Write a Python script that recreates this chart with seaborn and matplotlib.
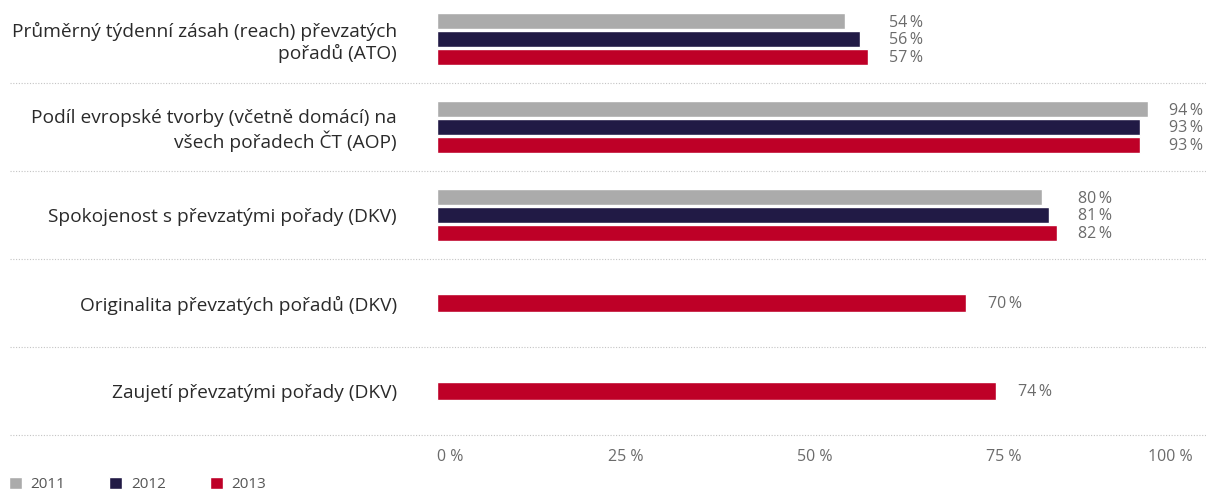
import pandas as pd
import matplotlib.pyplot as plt
import seaborn as sns

# Data
categories = [
    'Průměrný týdenní zásah (reach) převzatých\npořadů (ATO)',
    'Podíl evropské tvorby (včetně domácí) na\nvšech pořadech ČT (AOP)',
    'Spokojenost s převzatými pořady (DKV)',
    'Originalita převzatých pořadů (DKV)',
    'Zaujetí převzatými pořady (DKV)',
]
years = ['2011', '2012', '2013']
values_2011 = [54, 94, 80, None, None]
values_2012 = [56, 93, 81, None, None]
values_2013 = [57, 93, 82, 70, 74]
tick_values = [0, 25, 50, 75, 100]
tick_labels = ['0 %', '25 %', '50 %', '75 %', '100 %']
colors = ['#ababab', '#211a45', '#be0027']

sns.set_theme(style='white')
plt.rcParams['font.family'] = ['Open Sans', 'DejaVu Sans']

# long-form table
rows = []
for year, vals in zip(years, [values_2011, values_2012, values_2013]):
    for cat, v in zip(categories, vals):
        if v is not None:
            rows.append({'category': cat, 'year': year, 'value': v})
df = pd.DataFrame(rows)
counts = df.groupby('category')['year'].transform('count')
grouped = df[counts == 3]
single = df[counts == 1]

fig = plt.figure(figsize=(12.06, 4.91), dpi=100)
ax = fig.add_axes([437 / 1206, 56 / 491, 756 / 1206, 440 / 491])

sns.barplot(data=grouped, y='category', x='value', hue='year', order=categories,
            hue_order=years, palette=colors, width=0.6, gap=0.1, orient='h',
            saturation=1, ax=ax)
leg = ax.get_legend()
handles = leg.legend_handles
labels = [t.get_text() for t in leg.texts]
leg.remove()

sns.barplot(data=single, y='category', x='value', order=categories,
            color=colors[2], width=0.195, orient='h', saturation=1,
            legend=False, ax=ax)
if ax.get_legend() is not None:
    ax.get_legend().remove()

ax.set_xlim(0, 100)
ax.set_ylim(4.5, -0.5)

# value labels, right aligned after the longest bar in each group
group_max = {}
bars = []
for container in ax.containers:
    for p in container:
        w = p.get_width()
        if not w > 0:
            continue
        yc = p.get_y() + p.get_height() / 2
        idx = int(round(yc))
        group_max[idx] = max(group_max.get(idx, 0), w)
        bars.append((w, yc, idx))
for w, yc, idx in bars:
    ax.annotate(f'{int(w)}\u2009%', xy=(group_max[idx], yc), xytext=(40, -1),
                textcoords='offset points', ha='right', va='center',
                fontsize=11.5, color='#6b6b6b', annotation_clip=False)

# dotted separators running across the full width
for y in [0.5, 1.5, 2.5, 3.5, 4.5]:
    ax.axhline(y, xmin=-0.565, xmax=1.02, color='#c4c4c4', lw=0.8,
               ls=(0, (1, 1.5)), clip_on=False)

ax.set_xticks(tick_values)
ax.set_xticklabels(tick_labels)
ax.tick_params(axis='x', length=0, pad=10, labelsize=11.5, labelcolor='#6b6b6b')
ax.tick_params(axis='y', length=0, pad=29, labelsize=13.8, labelcolor='#2a2a2a')
xt = ax.get_xticklabels()
xt[0].set_ha('left')
xt[-1].set_ha('right')
ax.set_xlabel('')
ax.set_ylabel('')
sns.despine(ax=ax, left=True, bottom=True)

fig.legend(handles, labels, loc='lower left', bbox_to_anchor=(-0.004, -0.03),
           ncol=3, frameon=False, fontsize=11, handlelength=0.85,
           handleheight=0.85, handletextpad=0.55, columnspacing=2.9,
           labelcolor='#555555')

fig.savefig('out.png', dpi=100)
